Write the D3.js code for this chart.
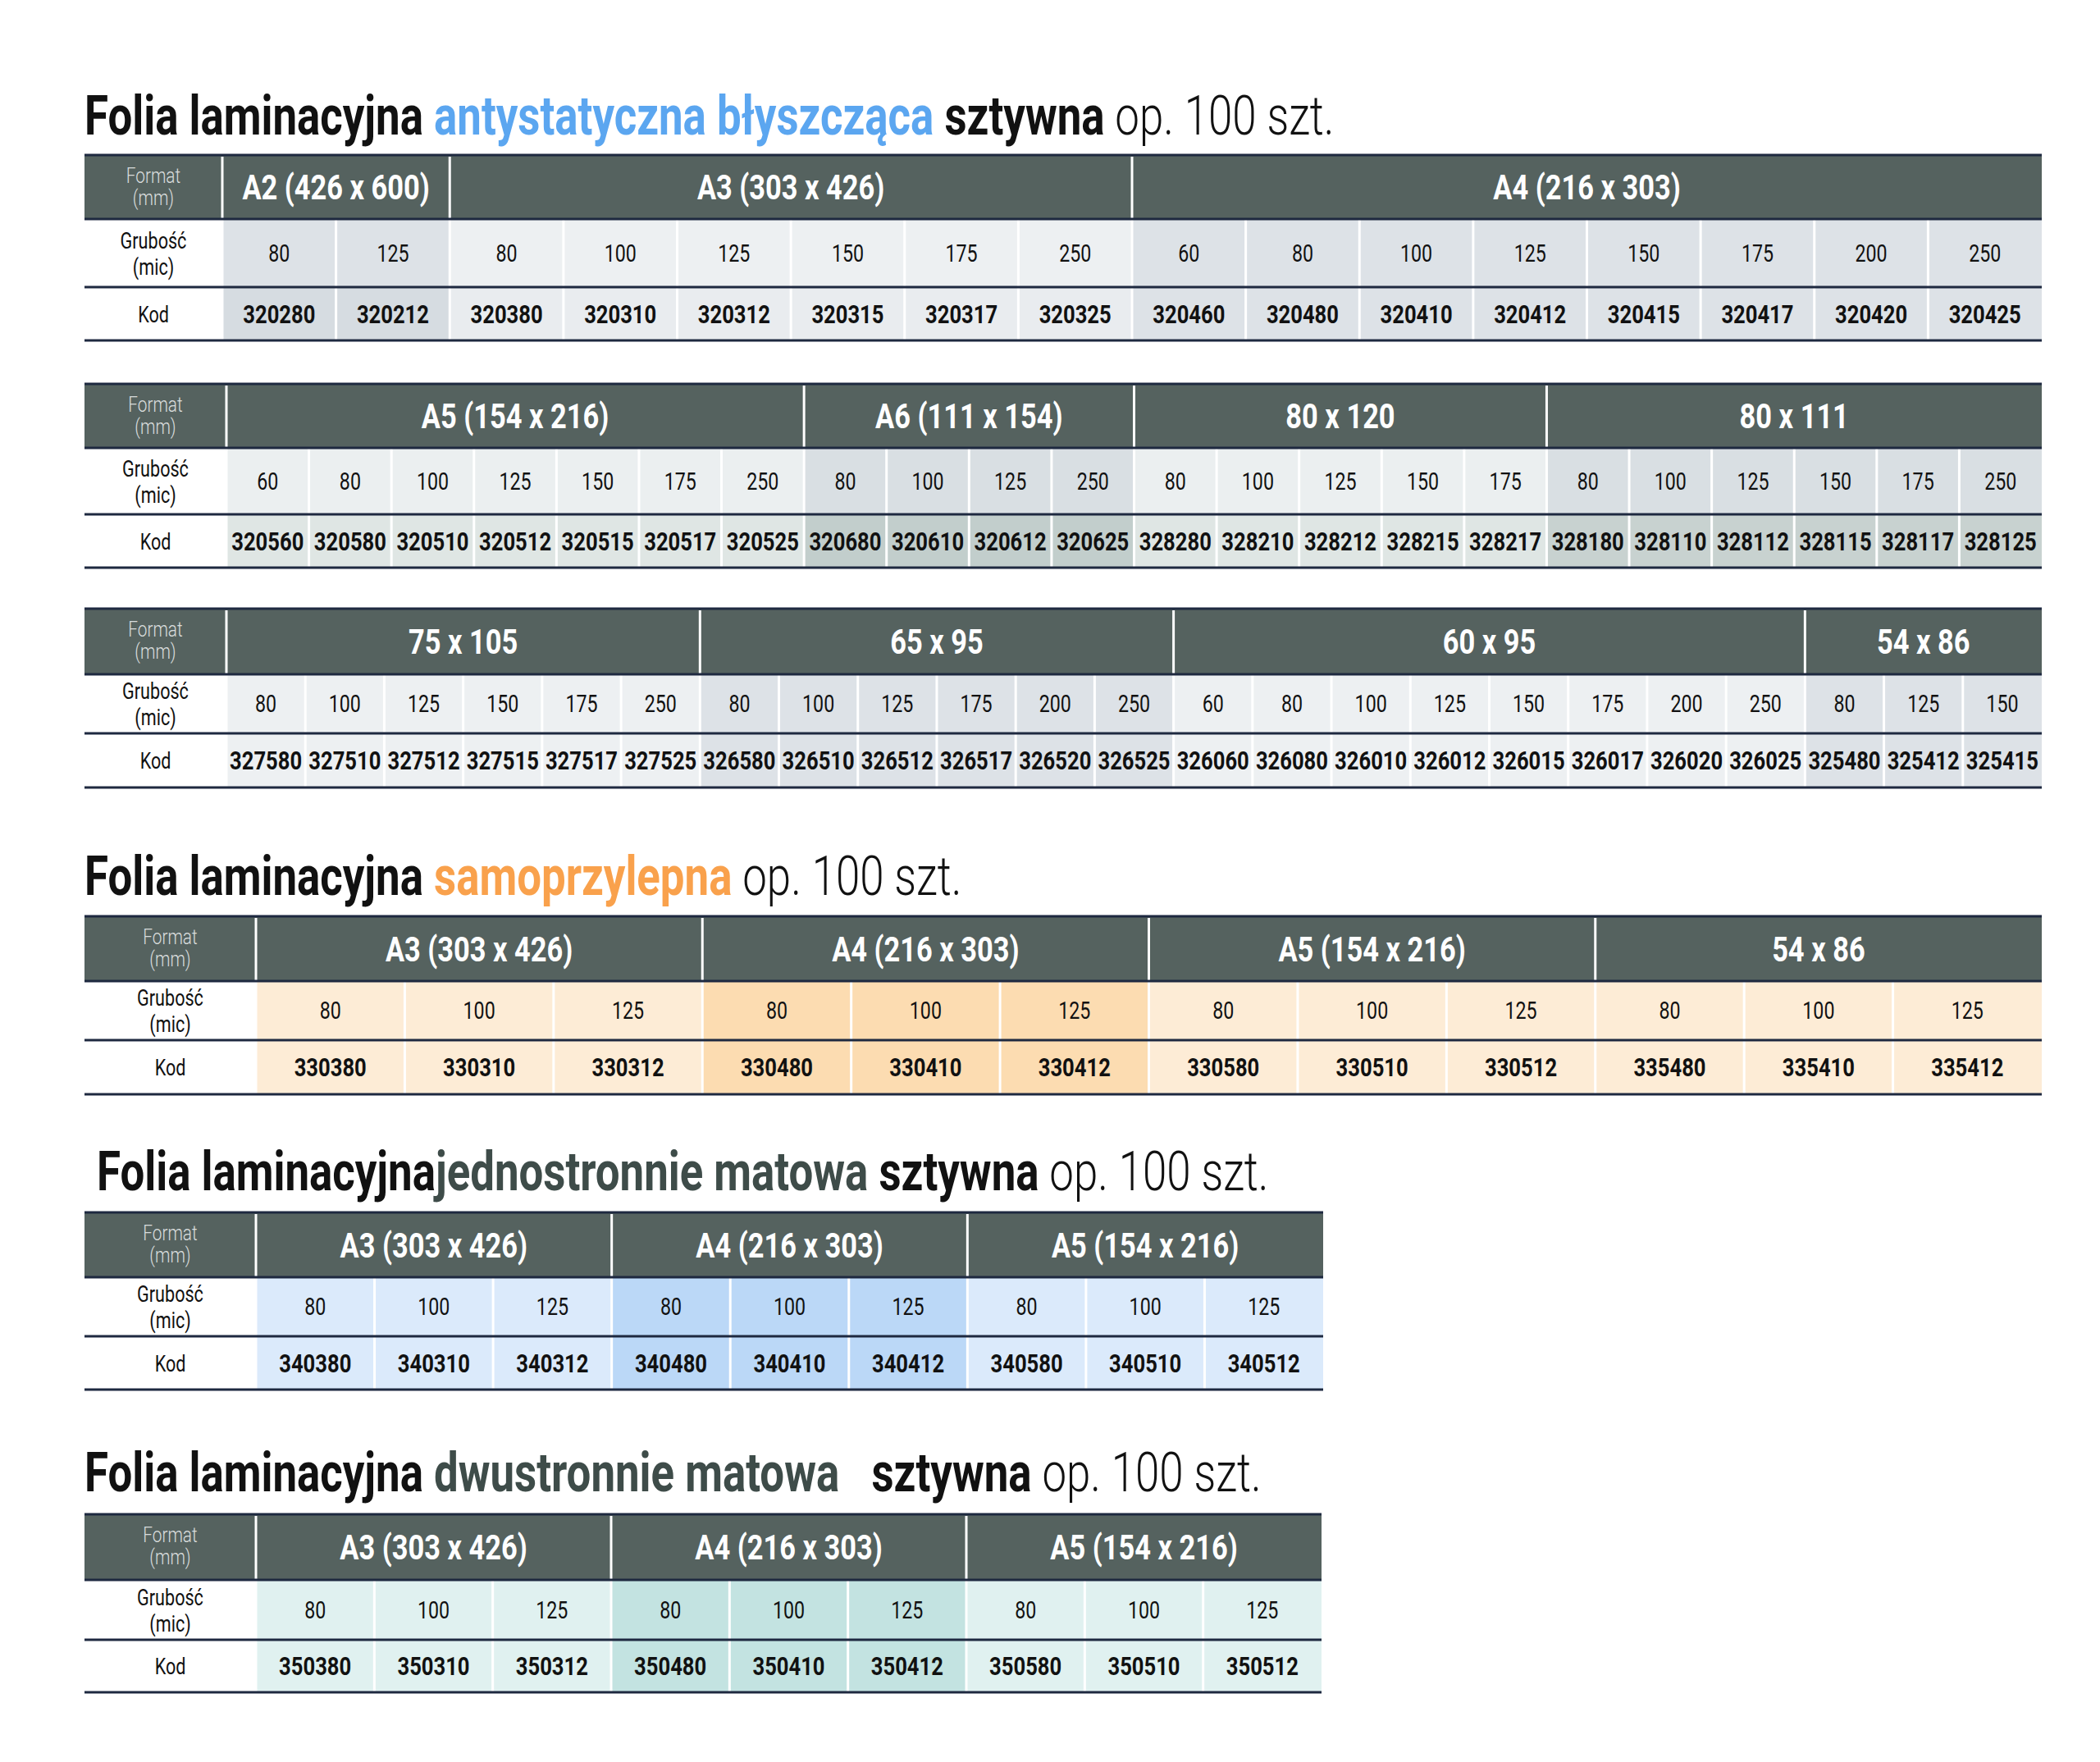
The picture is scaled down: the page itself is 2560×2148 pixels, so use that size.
<!DOCTYPE html>
<html><head><meta charset="utf-8">
<script src="https://cdn.jsdelivr.net/npm/d3@7"></script>
<style>body{margin:0;background:#fff}</style>
</head><body><div id="chart"></div>
<script>
// ---- data ----
const antyFormats = ["A2 (426 x 600)", "A3 (303 x 426)", "A4 (216 x 303)"];
const antyThick = [[80,125],[80,100,125,150,175,250],[60,80,100,125,150,175,200,250]];
const antyCodes = [["320280","320212"],["320380","320310","320312","320315","320317","320325"],
  ["320460","320480","320410","320412","320415","320417","320420","320425"]];

const anty2Formats = ["A5 (154 x 216)", "A6 (111 x 154)", "80 x 120", "80 x 111"];
const anty2Thick = [[60,80,100,125,150,175,250],[80,100,125,250],[80,100,125,150,175],[80,100,125,150,175,250]];
const anty2Codes = [["320560","320580","320510","320512","320515","320517","320525"],["320680","320610","320612","320625"],
  ["328280","328210","328212","328215","328217"],["328180","328110","328112","328115","328117","328125"]];

const anty3Formats = ["75 x 105", "65 x 95", "60 x 95", "54 x 86"];
const anty3Thick = [[80,100,125,150,175,250],[80,100,125,175,200,250],[60,80,100,125,150,175,200,250],[80,125,150]];
const anty3Codes = [["327580","327510","327512","327515","327517","327525"],["326580","326510","326512","326517","326520","326525"],
  ["326060","326080","326010","326012","326015","326017","326020","326025"],["325480","325412","325415"]];

const samoFormats = ["A3 (303 x 426)", "A4 (216 x 303)", "A5 (154 x 216)", "54 x 86"];
const samoThick = [[80,100,125],[80,100,125],[80,100,125],[80,100,125]];
const samoCodes = [["330380","330310","330312"],["330480","330410","330412"],["330580","330510","330512"],["335480","335410","335412"]];

const jedFormats = ["A3 (303 x 426)", "A4 (216 x 303)", "A5 (154 x 216)"];
const jedThick = [[80,100,125],[80,100,125],[80,100,125]];
const jedCodes = [["340380","340310","340312"],["340480","340410","340412"],["340580","340510","340512"]];

const dwuFormats = ["A3 (303 x 426)", "A4 (216 x 303)", "A5 (154 x 216)"];
const dwuThick = [[80,100,125],[80,100,125],[80,100,125]];
const dwuCodes = [["350380","350310","350312"],["350480","350410","350412"],["350580","350510","350512"]];

const titles = [
  [["Folia laminacyjna ","b","#111"],["antystatyczna błyszcząca","b","#5ba6f0"],[" sztywna","b","#111"],[" op. 100 szt.","l","#111"]],
  [["Folia laminacyjna ","b","#111"],["samoprzylepna","b","#f9a14c"],[" op. 100 szt.","l","#111"]],
  [["Folia laminacyjna","b","#111"],["jednostronnie matowa","b","#3e4c49"],[" sztywna","b","#111"],[" op. 100 szt.","l","#111"]],
  [["Folia laminacyjna ","b","#111"],["dwustronnie matowa","b","#3e4c49"],["   sztywna","b","#111"],[" op. 100 szt.","l","#111"]]
];

// ---- layout / style ----
const W = 2560, H = 2148;
const SX = 0.8;
const FONT = "Roboto, 'Liberation Sans', sans-serif";
const headFill = "#55625f", lineCol = "#1e2940";

const tables = [
  {formats: antyFormats, thick: antyThick, codes: antyCodes, x0: 103, x1: 2489, xf: 271, y: [189, 267, 350, 415],
   grub: ["#dde2e7","#edf0f2","#dde2e7"], kod: ["#d6dce1","#e9ecef","#dde2e7"]},
  {formats: anty2Formats, thick: anty2Thick, codes: anty2Codes, x0: 103, x1: 2489, xf: 276, y: [468, 546, 627, 692],
   grub: ["#ebeff0","#d9dfe3","#ebeff0","#d9dfe3"], kod: ["#dfe6e4","#c2cecc","#dfe6e4","#c8d2d0"]},
  {formats: anty3Formats, thick: anty3Thick, codes: anty3Codes, x0: 103, x1: 2489, xf: 276, y: [742, 822, 894, 960],
   grub: ["#edf0f2","#dde2e7","#edf0f2","#dde2e7"], kod: ["#edf0f2","#dde2e7","#edf0f2","#dde2e7"]},
  {formats: samoFormats, thick: samoThick, codes: samoCodes, x0: 103, x1: 2489, xf: 312, y: [1117, 1196, 1268, 1334],
   grub: ["#fdecd6","#fcdcb1","#fdecd6","#fdecd6"], kod: ["#fdecd6","#fcdcb1","#fdecd6","#fdecd6"]},
  {formats: jedFormats, thick: jedThick, codes: jedCodes, x0: 103, x1: 1613, xf: 312, y: [1478, 1557, 1629, 1694],
   grub: ["#dbeafb","#bbd8f7","#dbeafb"], kod: ["#dbeafb","#bbd8f7","#dbeafb"]},
  {formats: dwuFormats, thick: dwuThick, codes: dwuCodes, x0: 103, x1: 1611, xf: 312, y: [1846, 1926, 1999, 2063],
   grub: ["#e0f1f0","#c3e3e1","#e0f1f0"], kod: ["#e0f1f0","#c3e3e1","#e0f1f0"]}
];
const titlePos = [[103, 164, 0], [103, 1091, 3], [118, 1451, 4], [103, 1818, 5]];

const svg = d3.select("#chart").append("svg").attr("width", W).attr("height", H)
  .style("font-family", FONT);

function ctext(g, x, y, str, size, weight, fill, anchor) {
  return g.append("text")
    .attr("transform", `translate(${x},${y}) scale(${SX},1)`)
    .attr("text-anchor", anchor || "middle")
    .style("font-size", size + "px").style("font-weight", weight).attr("fill", fill)
    .text(str);
}

// titles
titlePos.forEach(([x, y], i) => {
  const t = svg.append("text").attr("transform", `translate(${x},${y}) scale(${SX},1)`)
    .style("font-size", "66px");
  titles[i].forEach(([s, w, c]) => {
    t.append("tspan").attr("fill", c).style("font-weight", w === "b" ? 700 : 300)
      .style("white-space", "pre").text(s);
  });
});

tables.forEach(tb => {
  const g = svg.append("g");
  const nCols = d3.sum(tb.thick, d => d.length);
  const x = d3.scaleLinear().domain([0, nCols]).range([tb.xf, tb.x1]);
  const [y0, y1, y2, y3] = tb.y;

  // header band
  g.append("rect").attr("x", tb.x0).attr("y", y0).attr("width", tb.x1 - tb.x0).attr("height", y1 - y0).attr("fill", headFill);

  let start = 0;
  tb.formats.forEach((f, gi) => {
    const n = tb.thick[gi].length;
    const xa = x(start), xb = x(start + n);
    ctext(g, (xa + xb) / 2, (y0 + y1) / 2 + 15, f, 43, 700, "#fff");
    tb.thick[gi].forEach((v, k) => {
      const ca = x(start + k), cb = x(start + k + 1);
      g.append("rect").attr("x", ca).attr("y", y1).attr("width", cb - ca).attr("height", y2 - y1).attr("fill", tb.grub[gi]);
      g.append("rect").attr("x", ca).attr("y", y2).attr("width", cb - ca).attr("height", y3 - y2).attr("fill", tb.kod[gi]);
      ctext(g, (ca + cb) / 2, (y1 + y2) / 2 + 10, String(v), 29, 400, "#111");
      ctext(g, (ca + cb) / 2, (y2 + y3) / 2 + 11, tb.codes[gi][k], 32, 700, "#111");
      if (k > 0) g.append("line").attr("x1", ca).attr("x2", ca).attr("y1", y1).attr("y2", y3)
        .attr("stroke", "#fff").attr("stroke-width", 3);
    });
    start += n;
  });
  // vertical white separators in header / between groups
  let acc = 0;
  [0].concat(tb.thick.map(t => (acc += t.length))).slice(0, -1).forEach(c => {
    g.append("line").attr("x1", x(c)).attr("x2", x(c)).attr("y1", y0 + 2).attr("y2", y3)
      .attr("stroke", "#fff").attr("stroke-width", 3);
  });

  // left labels
  const lx = (tb.x0 + tb.xf) / 2;
  ctext(g, lx, y0 + 34, "Format", 26, 300, "#d9dddd");
  ctext(g, lx, y0 + 61, "(mm)", 26, 300, "#d9dddd");
  ctext(g, lx, (y1 + y2) / 2 - 6, "Grubość", 27, 400, "#111");
  ctext(g, lx, (y1 + y2) / 2 + 26, "(mic)", 27, 400, "#111");
  ctext(g, lx, (y2 + y3) / 2 + 10, "Kod", 27, 400, "#111");

  // dark rules
  [y0, y1, y2, y3].forEach(yy => {
    g.append("line").attr("x1", tb.x0).attr("x2", tb.x1).attr("y1", yy).attr("y2", yy)
      .attr("stroke", lineCol).attr("stroke-width", 3);
  });
});
</script>
</body></html>
